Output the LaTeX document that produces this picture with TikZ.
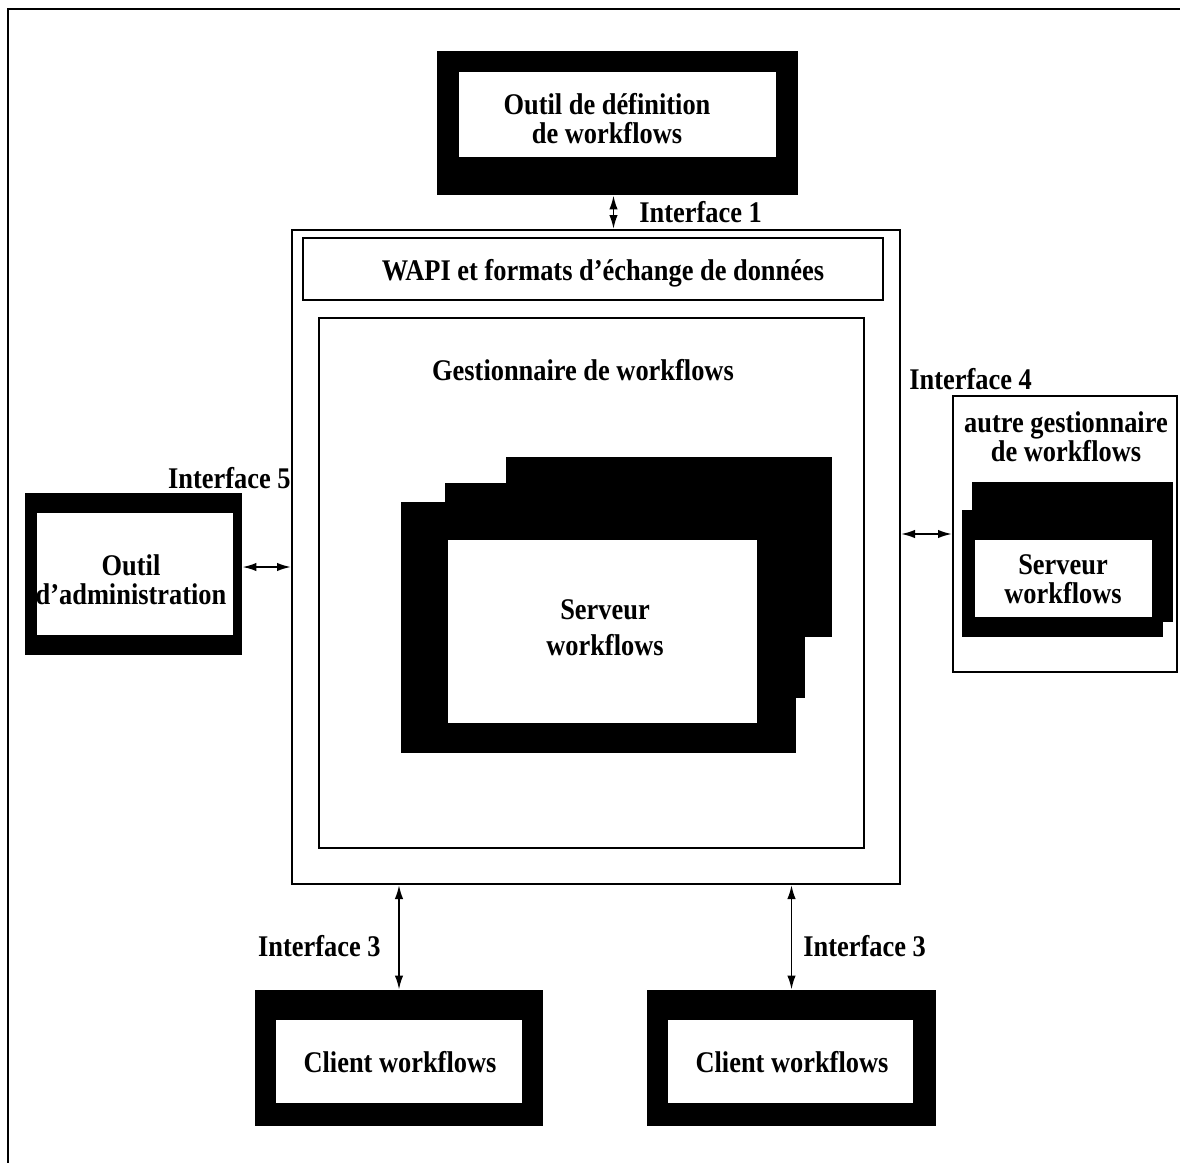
\documentclass[tikz,border=0pt]{standalone}
\usepackage{fontspec}
\newfontfamily\diafont{Liberation Serif}[FakeStretch=0.88]
\usetikzlibrary{fit,arrows.meta}
\begin{document}
\begin{tikzpicture}[x=0.5pt,y=-0.5pt,
  every node/.style={font=\diafont\bfseries\fontsize{15}{14.5}\selectfont},
  heavy/.style={fit={#1}, inner sep=0pt, fill=black, draw=none},
  hole/.style={fit={#1}, inner sep=0pt, fill=white, draw=none},
  thinbox/.style={fit={#1}, inner sep=0pt, fill=white, draw=black, line width=1pt},
  lbl/.style={inner sep=0pt, align=center},
  biarrow/.style={{Latex[length=7pt,width=4.2pt]}-{Latex[length=7pt,width=4.2pt]}, line width=0.9pt}]

\useasboundingbox (0,0) rectangle (1180,1163);
\begin{scope}
  \clip (0,0) rectangle (1180,1163);
  % page frame, cut off on the right and at the bottom
  \draw[line width=1.4pt] (1200,9) -- (8,9) -- (8,1180);
\end{scope}

% workflow definition tool
\node[heavy={(437,51) (798,195)}] (def) {};
\node[hole={(459,72) (776,157)}] (defin) {};
\node[lbl] (deftxt) at (607,119) {Outil de définition\\de workflows};

% central enactment service
\node[thinbox={(292,230) (900,884)}] (core) {};
\node[thinbox={(303,238) (883,300)}] (wapi) {};
\node[lbl] (wapitxt) at (603,273) {WAPI et formats d’échange de données};
\node[thinbox={(319,318) (864,848)}] (gest) {};
\node[lbl] (gesttxt) at (583,370) {Gestionnaire de workflows};

% stacked workflow engines
\node[heavy={(506,457) (832,637)}] (srv3) {};
\node[heavy={(445,483) (805,698)}] (srv2) {};
\node[heavy={(401,502) (796,753)}] (srv1) {};
\node[hole={(448,540) (757,723)}] (srv1in) {};
\node[lbl, font=\diafont\bfseries\fontsize{15}{18}\selectfont] (srvtxt) at (605,628) {Serveur\\workflows};

% administration tool
\node[heavy={(25,493) (242,655)}] (adm) {};
\node[hole={(37,513) (233,635)}] (admin) {};
\node[lbl] (admtxt) at (131,580) {Outil\\d’administration};

% other enactment service
\node[thinbox={(953,396) (1177,672)}] (other) {};
\node[lbl] (othtxt) at (1066,437) {autre gestionnaire\\de workflows};
\node[heavy={(972,482) (1173,622)}] (osrv2) {};
\node[heavy={(962,510) (1163,637)}] (osrv1) {};
\node[hole={(975,540) (1152,617)}] (osrvin) {};
\node[lbl] (osrvtxt) at (1063,579) {Serveur\\workflows};

% client applications
\node[heavy={(255,990) (543,1126)}] (cl1) {};
\node[hole={(276,1020) (522,1103)}] (cl1in) {};
\node[lbl] (cl1txt) at (400,1062) {Client workflows};
\node[heavy={(647,990) (936,1126)}] (cl2) {};
\node[hole={(668,1020) (913,1103)}] (cl2in) {};
\node[lbl] (cl2txt) at (792,1062) {Client workflows};

% interfaces
\draw[biarrow] ([xshift=-2pt]def.south) -- ([xshift=-2pt]def.south |- core.north);
\node[lbl, anchor=west] (if1) at (639,212) {Interface 1};

\draw[biarrow] ([yshift=3.5pt]adm.east) -- ([yshift=3.5pt]adm.east -| core.west);
\node[lbl, anchor=east] (if5) at (291,478) {Interface 5};

\draw[biarrow] (other.west) -- (other.west -| core.east);
\node[lbl, anchor=west] (if4) at (909,379) {Interface 4};

\draw[biarrow] (cl1.north) -- (cl1.north |- core.south);
\node[lbl, anchor=east] (if3a) at (381,946) {Interface 3};

\draw[biarrow] (cl2.north) -- (cl2.north |- core.south);
\node[lbl, anchor=west] (if3b) at (803,946) {Interface 3};
\end{tikzpicture}
\end{document}
